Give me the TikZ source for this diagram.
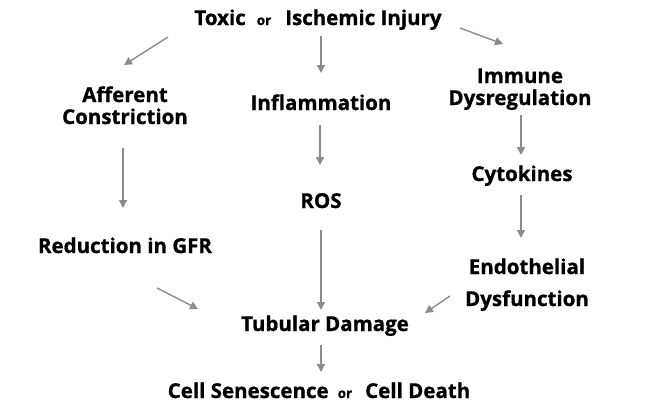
\documentclass[tikz,border=0pt]{standalone}
\usepackage{fontspec}
\setmainfont{Open Sans}[BoldFont={Open Sans Bold}, BoldFeatures={FakeBold=0.9}]
\usetikzlibrary{arrows.meta}
\definecolor{arrgray}{RGB}{140,140,140}
\newcommand{\smallor}{{\fontsize{13.5}{14}\selectfont or}}
\tikzset{
  lbl/.style={font=\bfseries\fontsize{20.5}{22}\selectfont, align=center, inner sep=0pt, anchor=base},
  arr/.style={-{Triangle[width=8pt,length=8pt]}, color=arrgray, line width=1.4pt}
}
\begin{document}
\begin{tikzpicture}[x=1pt, y=-1pt]
  \useasboundingbox (0,0) rectangle (660,407);
  \node[lbl] (toxic) at (318,25) {Toxic\hspace{11pt}\smallor\hspace{14pt}Ischemic Injury};
  \node[lbl] (aff) at (125,124) {Afferent\\Constriction};
  \node[lbl] (infl) at (321,110) {Inflammation};
  \node[lbl] (imm) at (520,105) {Immune\\Dysregulation};
  \node[lbl] (cyto) at (522,181) {Cytokines};
  \node[lbl] (ros) at (321,208) {ROS};
  \node[lbl] (gfr) at (125,253) {Reduction in GFR};
  \node[lbl, font=\bfseries\fontsize{20.5}{32}\selectfont] (endo) at (527,306) {Endothelial\\Dysfunction};
  \node[lbl] (tub) at (325,331) {Tubular Damage};
  \node[lbl] (cell) at (319,398) {Cell Senescence\hspace{9pt}\smallor\hspace{13pt}Cell Death};
  \path[arr]
  ([shift={(-150,12)}]toxic.base) edge ([shift={(-1,-59)}]aff.base)
  ([shift={(3,11)}]toxic.base) edge ([shift={(0,-37)}]infl.base)
  ([shift={(142,3)}]toxic.base) edge ([shift={(-17,-61)}]imm.base)
  ([shift={(-2,24)}]aff.base) edge ([shift={(-2,-45)}]gfr.base)
  ([shift={(-1,15)}]infl.base) edge ([shift={(-1,-43)}]ros.base)
  ([shift={(1,10)}]imm.base) edge ([shift={(-1,-26)}]cyto.base)
  ([shift={(0,22)}]ros.base) edge ([shift={(-4,-21)}]tub.base)
  ([shift={(-1,14)}]cyto.base) edge ([shift={(-6,-68)}]endo.base)
  ([shift={(32,35)}]gfr.base) edge ([shift={(-127,-22)}]tub.base)
  ([shift={(-77,-10)}]endo.base) edge ([shift={(100,-18)}]tub.base)
  ([shift={(-4,14)}]tub.base) edge ([shift={(2,-26)}]cell.base);
\end{tikzpicture}
\end{document}
